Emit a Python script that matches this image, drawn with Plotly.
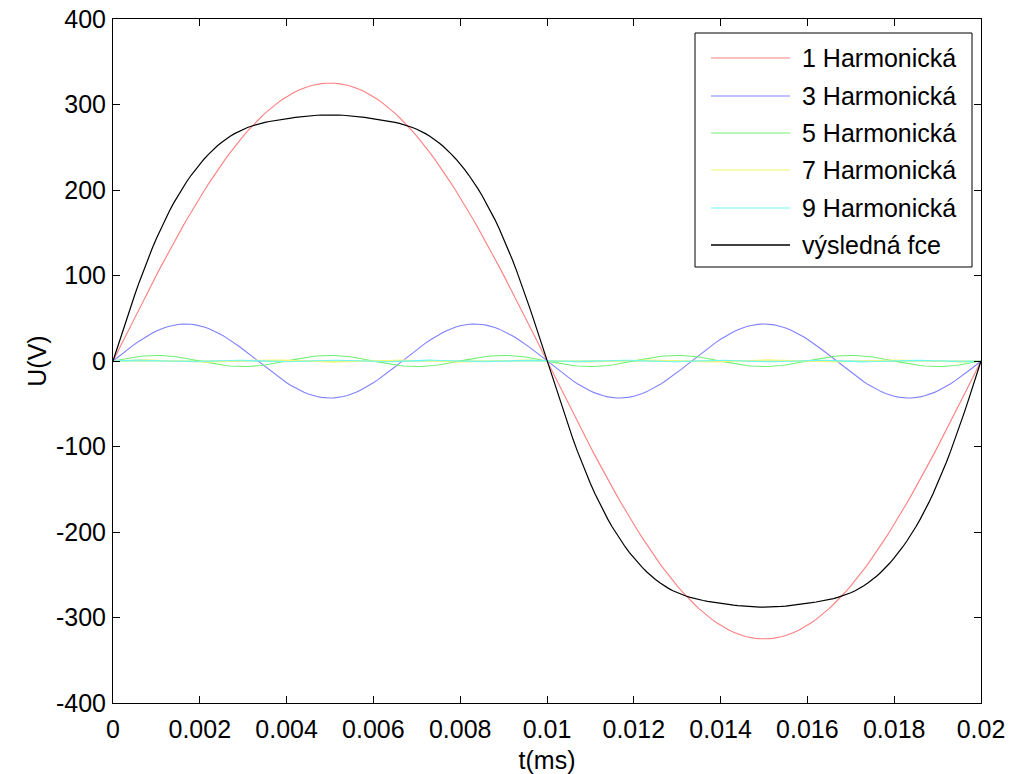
import numpy as np
import plotly.graph_objects as go

# Fundamental frequency of the mains signal (Hz) and time window (s)
f0 = 50.0
t_end = 0.02
t_step = 0.0001

# Odd harmonics and their peak amplitudes (V)
harmonic_orders = [1, 3, 5, 7, 9]
amplitudes_v = [325.0, 43.3, 6.5, 1.3, 1.0]
signs = [1, 1, 1, 1, 1]
series_names = ["1 Harmonická", "3 Harmonická", "5 Harmonická",
                "7 Harmonická", "9 Harmonická"]
series_colors = ["#ff8080", "#8080ff", "#70f070", "#f5f570", "#70f5f5"]
result_name = "výsledná fce"
result_color = "#000000"

# Axis ticks
x_ticks = [0, 0.002, 0.004, 0.006, 0.008, 0.01, 0.012, 0.014, 0.016, 0.018, 0.02]
x_tick_text = ["0", "0.002", "0.004", "0.006", "0.008", "0.01", "0.012",
               "0.014", "0.016", "0.018", "0.02"]
y_ticks = [-400, -300, -200, -100, 0, 100, 200, 300, 400]
y_tick_text = [str(v) for v in y_ticks]

t = np.arange(0, t_end + t_step / 2, t_step)
components = [s * a * np.sin(2 * np.pi * n * f0 * t)
              for n, a, s in zip(harmonic_orders, amplitudes_v, signs)]
total = np.sum(components, axis=0)

FONT = "Arial, Liberation Sans, sans-serif"
FS = 25

W, H = 1016, 774
L, R, T, B = 113, 981, 19, 703  # plot-area edges in pixels


def px(x):
    return (x - L) / (R - L)


def py(y):
    return (B - y) / (B - T)


fig = go.Figure()

# faint zero-level reference drawn in green
fig.add_trace(go.Scatter(x=[t[0], t[-1]], y=[0, 0], mode="lines",
                         line=dict(color="#80f080", width=1),
                         showlegend=False, hoverinfo="skip"))

for name, color, y in zip(series_names, series_colors, components):
    fig.add_trace(go.Scatter(x=t, y=y, mode="lines", name=name,
                             line=dict(color=color, width=1.1),
                             showlegend=False))
fig.add_trace(go.Scatter(x=t, y=total, mode="lines", name=result_name,
                         line=dict(color=result_color, width=1.2),
                         showlegend=False))

axis_common = dict(
    showgrid=False, zeroline=False, showline=True, linecolor="black",
    linewidth=1, mirror="ticks", ticks="inside", ticklen=7,
    tickcolor="black", tickwidth=1, automargin=False,
    tickfont=dict(family=FONT, size=FS, color="black"),
)

fig.update_layout(
    width=W, height=H,
    margin=dict(l=L, r=W - R, t=T, b=H - B),
    paper_bgcolor="white", plot_bgcolor="white",
    xaxis=dict(range=[0, 0.02], tickmode="array", tickvals=x_ticks,
               ticktext=x_tick_text, ticklabelstandoff=4,
               title=dict(text="t(ms)", font=dict(family=FONT, size=FS, color="black"),
                          standoff=14),
               **axis_common),
    yaxis=dict(range=[-400, 400], tickmode="array", tickvals=y_ticks,
               ticktext=y_tick_text, ticklabelstandoff=1,
               title=dict(text="U(V)", font=dict(family=FONT, size=FS, color="black"),
                          standoff=2),
               **axis_common),
    showlegend=False,
)

# Legend box drawn with shapes and annotations
box_l, box_r, box_t, box_b = 695, 972, 33, 267
fig.add_shape(type="rect", xref="paper", yref="paper",
              x0=px(box_l), x1=px(box_r), y0=py(box_b), y1=py(box_t),
              line=dict(color="black", width=1), fillcolor="white", layer="above")

legend_rows_y = [58, 96, 133, 170, 208, 245]
legend_names = series_names + [result_name]
legend_colors = series_colors + [result_color]
for yy, name, color in zip(legend_rows_y, legend_names, legend_colors):
    fig.add_shape(type="line", xref="paper", yref="paper",
                  x0=px(711), x1=px(790), y0=py(yy), y1=py(yy),
                  line=dict(color=color, width=1.5 if color == result_color else 1.2),
                  layer="above")
    fig.add_annotation(xref="paper", yref="paper", x=px(800), y=py(yy),
                       text=name, showarrow=False, xanchor="left", yanchor="middle",
                       font=dict(family=FONT, size=FS, color="black"))

fig.write_html("out.html")
